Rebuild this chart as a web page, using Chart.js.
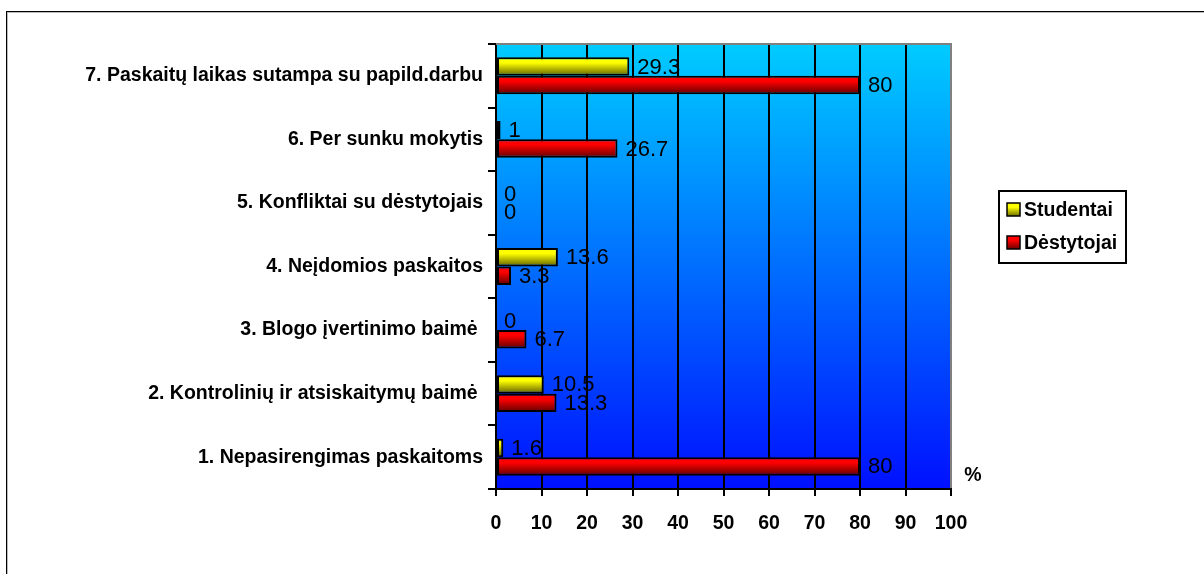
<!DOCTYPE html>
<html>
<head>
<meta charset="utf-8">
<script src="https://cdn.jsdelivr.net/npm/chart.js@4"></script>
<style>
  html, body { margin: 0; padding: 0; background: #fff; }
  #wrap { position: relative; width: 1204px; height: 574px; overflow: hidden; }
  #frame { position: absolute; left: 6px; top: 11px; width: 1300px; height: 700px;
           border-left: 1px solid #000; border-top: 1px solid #000;
           box-shadow: inset 1px 1px 0 #bbb; }
  #chart { position: absolute; left: 0; top: 0; }
</style>
</head>
<body>
<div id="wrap">
  <div id="frame"></div>
  <canvas id="chart" width="1204" height="574"></canvas>
</div>
<script>
// categories, top to bottom as in the picture
const categories = [
  '7. Paskaitų laikas sutampa su papild.darbu',
  '6. Per sunku mokytis',
  '5. Konfliktai su dėstytojais',
  '4. Neįdomios paskaitos',
  '3. Blogo įvertinimo baimė ',
  '2. Kontrolinių ir atsiskaitymų baimė ',
  '1. Nepasirengimas paskaitoms'
];
const studentai = [29.3, 1, 0, 13.6, 0, 10.5, 1.6];
const destytojai = [80, 26.7, 0, 3.3, 6.7, 13.3, 80];
const seriesNames = ['Studentai', 'Dėstytojai'];
const xMin = 0, xMax = 100, xStep = 10;

const FONT = '"Liberation Sans", Arial, sans-serif';
Chart.defaults.font.family = FONT;
Chart.defaults.color = '#000';

const CAT_PCT = 0.58;
const colours = [
  { light: '#ffff00', dark: '#5e5e00' },
  { light: '#ff0000', dark: '#5e0000' }
];

// vertical gradient for each bar, worked out from the category scale
function barFill(ctx) {
  const c = colours[ctx.datasetIndex];
  const chart = ctx.chart;
  const y = chart.scales && chart.scales.y;
  if (!y || ctx.type !== 'data' || !y.height) return c.light;
  const band = y.height / categories.length;
  const centre = y.getPixelForValue(ctx.dataIndex);
  const half = band * CAT_PCT / 2;
  const top = ctx.datasetIndex === 0 ? centre - half : centre;
  const g = chart.ctx.createLinearGradient(0, top, 0, top + half);
  g.addColorStop(0, c.light);
  g.addColorStop(0.3, c.light);
  g.addColorStop(1, c.dark);
  return g;
}

const barStyle = {
  backgroundColor: barFill,
  borderColor: '#000',
  borderWidth: 2,
  borderSkipped: false,
  categoryPercentage: CAT_PCT,
  barPercentage: 1
};

const plotBg = {
  id: 'plotBg',
  beforeDraw(chart) {
    const { ctx, chartArea: a } = chart;
    const g = ctx.createLinearGradient(0, a.top, 0, a.bottom);
    g.addColorStop(0, '#00ccff');
    g.addColorStop(1, '#0010ff');
    ctx.save();
    ctx.fillStyle = g;
    ctx.fillRect(a.left, a.top, a.right - a.left, a.bottom - a.top);
    ctx.restore();
  },
  beforeDatasetsDraw(chart) {
    const { ctx, chartArea: a } = chart;
    ctx.save();
    ctx.strokeStyle = '#808080';
    ctx.lineWidth = 2;
    ctx.beginPath();
    ctx.moveTo(a.left, a.top);
    ctx.lineTo(a.right + 1, a.top);
    ctx.stroke();
    ctx.restore();
  }
};

const valueLabels = {
  id: 'valueLabels',
  afterDatasetsDraw(chart) {
    const ctx = chart.ctx;
    ctx.save();
    ctx.font = '22px ' + FONT;
    ctx.fillStyle = '#000';
    ctx.textBaseline = 'middle';
    ctx.textAlign = 'left';
    chart.data.datasets.forEach((ds, i) => {
      chart.getDatasetMeta(i).data.forEach((bar, j) => {
        ctx.fillText(String(ds.data[j]), bar.x + 8, bar.y + 1);
      });
    });
    ctx.restore();
  }
};

const boxLegend = {
  id: 'boxLegend',
  afterDraw(chart) {
    const ctx = chart.ctx;
    const x = 999, y = 191, w = 127, h = 72;
    ctx.save();
    ctx.fillStyle = '#fff';
    ctx.fillRect(x, y, w, h);
    ctx.strokeStyle = '#000';
    ctx.lineWidth = 2;
    ctx.strokeRect(x, y, w, h);
    ctx.font = 'bold 19.5px ' + FONT;
    ctx.textBaseline = 'middle';
    chart.data.datasets.forEach((ds, i) => {
      const cy = y + 19 + i * 33;
      const g = ctx.createLinearGradient(0, cy - 7, 0, cy + 7);
      g.addColorStop(0, colours[i].light);
      g.addColorStop(0.3, colours[i].light);
      g.addColorStop(1, colours[i].dark);
      ctx.fillStyle = g;
      ctx.fillRect(x + 8, cy - 7, 13, 13);
      ctx.lineWidth = 1.5;
      ctx.strokeRect(x + 8, cy - 7, 13, 13);
      ctx.fillStyle = '#000';
      ctx.fillText(ds.label, x + 25, cy + 1);
    });
    // unit mark beside the value axis
    ctx.textAlign = 'center';
    ctx.fillText('%', 973, 476);
    ctx.restore();
  }
};

new Chart(document.getElementById('chart'), {
  type: 'bar',
  data: {
    labels: categories,
    datasets: [
      Object.assign({ label: seriesNames[0], data: studentai }, barStyle),
      Object.assign({ label: seriesNames[1], data: destytojai }, barStyle)
    ]
  },
  options: {
    indexAxis: 'y',
    responsive: false,
    animation: false,
    layout: { padding: { top: 44, right: 253, left: 0, bottom: 0 } },
    plugins: {
      legend: { display: false },
      tooltip: { enabled: false }
    },
    scales: {
      x: {
        min: xMin,
        max: xMax,
        afterFit(scale) { scale.height = 85; },
        ticks: {
          stepSize: xStep,
          maxRotation: 0,
          padding: 16,
          color: '#000',
          font: { size: 19.5, weight: 'bold' }
        },
        grid: {
          color: (c) => (c.tick && c.tick.value === xMax ? '#808080' : '#000'),
          tickColor: '#000',
          lineWidth: 2,
          tickLength: 7
        },
        border: { color: '#000', width: 2 }
      },
      y: {
        afterFit(scale) { scale.width = 496; },
        ticks: {
          autoSkip: false,
          padding: 5,
          color: '#000',
          font: { size: 19.5, weight: 'bold' }
        },
        grid: {
          offset: true,
          drawOnChartArea: false,
          color: '#000',
          lineWidth: 2,
          tickLength: 8
        },
        border: { color: '#000', width: 2 }
      }
    }
  },
  plugins: [plotBg, valueLabels, boxLegend]
});
</script>
</body>
</html>
